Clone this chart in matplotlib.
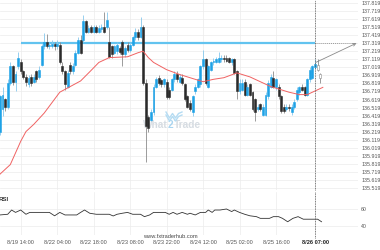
import matplotlib
matplotlib.use("Agg")
import matplotlib.pyplot as plt
from matplotlib.lines import Line2D
import numpy as np

plt.rcParams['font.family'] = ['Liberation Sans', 'DejaVu Sans']

# ---------------- data ----------------
opens = [136.21, 136.50, 136.62, 136.52, 136.83, 137.03, 136.84, 137.03, 137.09, 136.97,
         136.90, 136.81, 136.90, 136.84, 136.97, 136.90, 137.05, 137.28, 137.34, 137.28,
         137.29, 137.31, 137.28, 137.30, 137.04, 136.97, 136.78, 137.05, 136.97, 137.05,
         137.20, 137.36, 137.36, 137.59, 137.46, 137.52, 137.46, 137.52, 137.46, 137.49,
         137.52, 137.52, 137.34, 137.28, 137.20, 137.22, 137.26, 137.33, 137.18, 137.30,
         137.24, 137.30, 137.39, 137.46, 137.40, 137.52, 136.83, 136.40, 136.37, 136.46,
         136.78, 136.89, 136.86, 136.81, 136.84, 136.74, 136.74, 136.87, 136.93, 136.84,
         136.89, 136.81, 136.66, 136.58, 136.46, 136.72, 136.78, 136.81, 137.03, 137.12,
         136.78, 136.99, 137.08, 137.09, 137.09, 137.12, 137.14, 137.14, 137.13, 137.08,
         137.12, 136.97, 136.72, 136.74, 136.84, 136.68, 136.81, 136.71, 136.62, 136.50,
         136.56, 136.43, 136.43, 136.66, 136.78, 136.89, 136.77, 136.78, 136.66, 136.53,
         136.50, 136.53, 136.46, 136.52, 136.62, 136.71, 136.78, 136.77, 136.68, 136.87,
         136.89, 137.02, 137.05, 136.93]
closes = [136.66, 136.68, 136.52, 136.82, 137.03, 136.84, 136.93, 137.14, 136.97, 136.90,
          136.84, 136.89, 136.83, 136.90, 136.87, 136.99, 137.28, 137.34, 137.29, 137.30,
          137.31, 137.28, 137.31, 137.09, 136.97, 136.81, 136.95, 136.97, 137.03, 137.20,
          137.36, 137.20, 137.59, 137.46, 137.51, 137.46, 137.52, 137.46, 137.51, 137.52,
          137.46, 137.61, 137.15, 137.18, 137.28, 137.30, 137.21, 137.18, 137.26, 137.24,
          137.30, 137.39, 137.46, 137.40, 137.52, 136.83, 136.29, 136.27, 136.46, 136.78,
          136.87, 136.83, 136.81, 136.87, 136.65, 136.65, 136.87, 136.93, 136.87, 136.90,
          136.83, 136.62, 136.53, 136.50, 136.66, 136.78, 136.87, 137.03, 137.12, 136.83,
          137.03, 137.08, 137.10, 137.12, 137.14, 137.14, 137.12, 137.10, 137.09, 137.12,
          136.95, 136.72, 136.83, 136.83, 136.68, 136.77, 136.68, 136.50, 136.46, 136.53,
          136.50, 136.53, 136.68, 136.83, 136.90, 136.78, 136.87, 136.66, 136.47, 136.47,
          136.53, 136.51, 136.53, 136.59, 136.74, 136.77, 136.74, 136.68, 136.87, 136.99,
          137.03, 137.06, 136.99, 136.89]
highs = [136.68, 136.77, 136.64, 136.87, 137.09, 137.05, 136.97, 137.21, 137.12, 136.99,
         136.93, 136.92, 136.93, 136.94, 136.99, 137.03, 137.31, 137.45, 137.43, 137.33,
         137.36, 137.34, 137.36, 137.33, 137.09, 136.99, 136.99, 137.08, 137.07, 137.24,
         137.39, 137.42, 137.67, 137.61, 137.55, 137.55, 137.55, 137.54, 137.54, 137.56,
         137.71, 137.71, 137.52, 137.30, 137.30, 137.33, 137.29, 137.36, 137.29, 137.33,
         137.33, 137.41, 137.51, 137.49, 137.65, 137.55, 136.87, 136.43, 136.50, 136.81,
         136.90, 136.92, 136.88, 136.89, 136.87, 136.77, 136.89, 136.97, 136.97, 136.93,
         136.93, 136.83, 136.68, 136.61, 136.68, 136.81, 136.89, 137.05, 137.24, 137.14,
         137.05, 137.10, 137.13, 137.15, 137.21, 137.17, 137.17, 137.17, 137.15, 137.14,
         137.14, 136.99, 136.87, 136.87, 136.87, 136.81, 136.83, 136.73, 136.64, 136.56,
         136.58, 136.56, 136.71, 136.86, 136.93, 136.97, 136.89, 136.81, 136.68, 136.56,
         136.56, 136.56, 136.56, 136.62, 136.77, 136.79, 136.81, 136.79, 136.89, 137.02,
         137.05, 137.12, 137.12, 136.95]
lows = [136.18, 136.41, 136.47, 136.50, 136.80, 136.80, 136.72, 137.00, 136.93, 136.87,
        136.79, 136.77, 136.79, 136.82, 136.84, 136.88, 137.03, 137.25, 137.26, 137.25,
        137.26, 137.24, 137.25, 137.06, 136.93, 136.74, 136.76, 136.94, 136.94, 137.03,
        137.18, 137.18, 137.34, 137.44, 137.44, 137.44, 137.45, 137.44, 137.45, 137.46,
        137.44, 137.50, 137.13, 137.14, 137.18, 137.19, 137.19, 137.03, 137.15, 137.21,
        137.21, 137.28, 137.36, 137.36, 137.38, 136.80, 135.84, 136.22, 136.35, 136.43,
        136.76, 136.80, 136.78, 136.78, 136.62, 136.62, 136.72, 136.84, 136.84, 136.82,
        136.80, 136.60, 136.51, 136.47, 136.41, 136.69, 136.76, 136.78, 137.00, 136.80,
        136.76, 136.97, 137.05, 137.07, 137.07, 137.09, 137.09, 137.08, 137.07, 137.05,
        136.93, 136.62, 136.69, 136.72, 136.66, 136.66, 136.66, 136.47, 136.35, 136.47,
        136.47, 136.41, 136.41, 136.63, 136.76, 136.76, 136.74, 136.63, 136.45, 136.45,
        136.47, 136.48, 136.43, 136.50, 136.60, 136.68, 136.72, 136.66, 136.66, 136.84,
        136.87, 137.00, 136.97, 136.83]

ma_idx = [0, 4, 8, 10, 13, 17, 20, 23, 27, 31, 35, 38, 42, 49, 53, 55, 57, 59, 64, 69,
          73, 78, 82, 86, 91, 96, 100, 104, 108, 111, 115, 118, 120, 122, 124]
ma_val = [135.69, 135.81, 136.10, 136.22, 136.31, 136.45, 136.58, 136.71, 136.78, 136.85,
          136.98, 137.08, 137.14, 137.15, 137.20, 137.22, 137.14, 137.08, 136.99, 136.93,
          136.89, 136.84, 136.87, 136.89, 136.95, 136.90, 136.84, 136.78, 136.74, 136.71,
          136.68, 136.68, 136.71, 136.74, 136.77]

rsi_idx = [0, 3, 4.5, 6, 8, 10, 11.5, 19, 21, 23, 25, 29.5, 31, 32.5, 34.5, 37, 42, 43.5,
           45, 47, 49, 51, 54, 55.5, 57.5, 59, 63.5, 65, 66.5, 68, 70, 72, 73, 75, 77, 79,
           80, 81.5, 82.5, 84.5, 87, 89, 90, 92, 94, 96, 98.5, 100, 103.5, 105, 107, 108.5,
           110.5, 112.5, 114.5, 116.5, 119, 122, 123.5]
rsi_val = [53, 53.8, 58.8, 56, 58.8, 53.8, 56, 56, 52, 56, 53, 53, 56, 58.8, 55, 53.8, 53.8,
           51.8, 53.8, 55, 56, 53.8, 53.8, 51, 53, 56, 56, 53.8, 56, 53.8, 56, 53.8, 55, 53,
           56, 56, 58.8, 56, 58.8, 58.8, 60, 57, 58.8, 56, 53.8, 52, 51, 49, 49, 51, 51, 49,
           45, 49, 51, 48, 48, 48, 45]

time_tick_idx = [8, 22, 36, 50, 64, 78, 92, 106, 121]
time_tick_labels = ['8/19 14:00', '8/22 04:00', '8/22 18:00', '8/23 08:00', '8/23 22:00',
                    '8/24 12:00', '8/25 02:00', '8/25 16:00', '8/26 07:00']
price_ticks = [135.519, 135.619, 135.719, 135.819, 135.919, 136.019, 136.119, 136.219,
               136.319, 136.419, 136.519, 136.619, 136.719, 136.819, 136.919, 137.019,
               137.119, 137.219, 137.319, 137.419, 137.519, 137.619, 137.719, 137.819]
rsi_ticks = [40, 60]

level = 137.319          # resistance level
level_start_idx = 8      # 8/19 14:00
signal_idx = 121         # 8/26 07:00
arrow_from_price = 137.08
arrow_to_idx = 136.9

# ---------------- figure ----------------
W, H = 380, 250
fig = plt.figure(figsize=(W / 100, H / 100), dpi=100)


def box(x0, y0, x1, y1):
    return [x0 / W, 1 - y1 / H, (x1 - x0) / W, (y1 - y0) / H]


ax = fig.add_axes(box(0, 0, 358, 190))
axr = fig.add_axes(box(0, 192, 358, 234.5), sharex=ax)

grid_c = '#ececec'
up_c, dn_c = '#1ea2e6', '#2b2b2b'
n = len(opens)

for i in range(n):
    o, c, h, l = opens[i], closes[i], highs[i], lows[i]
    hollow = i > signal_idx
    up = c >= o
    if hollow:
        fc, ec, wc = 'white', '#8a8a8a', '#8a8a8a'
    elif up:
        fc, ec, wc = up_c, up_c, '#86c8ec'
    else:
        fc, ec, wc = dn_c, dn_c, '#8c8c8c'
    ax.vlines(i, l, h, color=wc, lw=0.6, zorder=3)
    body = max(abs(c - o), 0.012)
    ax.bar(i, body, bottom=min(o, c), width=0.72, color=fc, edgecolor=ec,
           linewidth=0.4, zorder=4)

ax.plot(ma_idx, ma_val, color='#f06262', lw=0.7, zorder=5)

# resistance level + projection
ax.plot([level_start_idx, signal_idx], [level, level], color='#62c3ef', lw=1.6,
        zorder=2, solid_capstyle='butt')
ax.plot([signal_idx, arrow_to_idx], [level, level], color='#9a9a9a', lw=0.7,
        ls=(0, (1, 1)), zorder=2)
ax.annotate('', xy=(arrow_to_idx, level), xytext=(signal_idx + 0.3, arrow_from_price),
            arrowprops=dict(arrowstyle='->', color='#8a8a8a', lw=0.6,
                            shrinkA=0, shrinkB=0, mutation_scale=5), zorder=6)

for a in (ax, axr):
    a.axvline(signal_idx, color='#555555', lw=0.6, ls=(0, (1, 1)), zorder=6,
              ymin=-0.09 if a is axr else 0, clip_on=False)
    for t in time_tick_idx:
        a.axvline(t, color=grid_c, lw=0.5, zorder=0)
    for s in a.spines.values():
        s.set_visible(False)

for p in price_ticks:
    ax.axhline(p, color=grid_c, lw=0.5, zorder=0)

ax.set_xlim(0.04, 137.5)
ax.set_ylim(135.494, 137.856)
ax.yaxis.tick_right()
ax.set_yticks(price_ticks)
ax.set_yticklabels(['%.3f' % p for p in price_ticks])
ax.tick_params(axis='y', length=0, pad=2.2, labelsize=3.8, labelcolor='#555555')
ax.tick_params(axis='x', length=0, labelbottom=False)

# RSI panel
axr.plot(rsi_idx, rsi_val, color='#333333', lw=0.6)
axr.set_ylim(30, 80)
for r in rsi_ticks:
    axr.axhline(r, color=grid_c, lw=0.5, zorder=0)
axr.yaxis.tick_right()
axr.set_yticks(rsi_ticks)
axr.set_yticklabels([str(r) for r in rsi_ticks])
axr.tick_params(axis='y', length=0, pad=2.2, labelsize=3.8, labelcolor='#555555')
axr.set_xticks(time_tick_idx)
axr.set_xticklabels(time_tick_labels)
axr.tick_params(axis='x', length=0, pad=4.0, labelsize=4.1, labelcolor='#555555')
lbls = axr.get_xticklabels()
lbls[-1].set_fontweight('bold')
lbls[-1].set_color('#222222')
axr.text(-0.004, 0.83, 'RSI', transform=axr.transAxes, fontsize=4.4,
         fontweight='bold', color='#333333', ha='left', va='center')

# watermarks
renderer = fig.canvas.get_renderer()
xpos = 143 / W
for part, col in (('What', '#d6dce2'), ('2', '#aad5f0'), ('Trade', '#d6dce2')):
    t = ax.text(xpos, 1 - 125 / H, part, transform=fig.transFigure, fontsize=7.3,
                fontweight='bold', color=col, ha='left', va='center', zorder=1)
    bb = t.get_window_extent(renderer=renderer)
    xpos = bb.x1 / (W * fig.dpi / 100)
# small logo zig-zag
for dy in (0, 3):
    xs = np.array([166, 169.5, 172.5, 175.5, 178.5, 182]) / W
    ys = 1 - (np.array([112, 118, 113.5, 118, 113.5, 112]) + dy) / H
    ax.add_line(Line2D(xs, ys, transform=fig.transFigure, color='#b5dcf3', lw=1.0,
                       zorder=1, clip_on=False))

fig.text(143 / W, 1 - 236 / H, 'www.fxtraderhub.com', fontsize=4.1, color='#444444',
         ha='left', va='center')

fig.savefig('out.png', dpi=100)
